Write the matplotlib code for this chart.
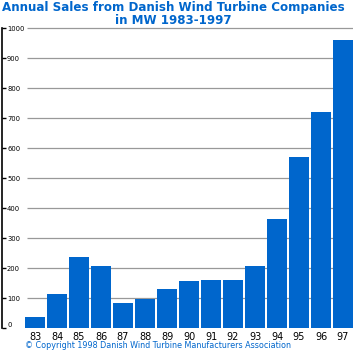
import matplotlib
matplotlib.use("Agg")
import matplotlib.pyplot as plt
import numpy as np

years = ["83", "84", "85", "86", "87", "88", "89", "90", "91", "92", "93", "94", "95", "96", "97"]
sales_mw = [38, 115, 238, 208, 85, 99, 132, 158, 161, 161, 208, 365, 571, 721, 961]
y_ticks = [0, 100, 200, 300, 400, 500, 600, 700, 800, 900, 1000]
title = "Annual Sales from Danish Wind Turbine Companies\nin MW 1983-1997"
copyright_text = "\u00a9 Copyright 1998 Danish Wind Turbine Manufacturers Association"

BLUE = "#0066CC"
W, H = 353, 352
PT = 0.72  # points per pixel at dpi 100
fig = plt.figure(figsize=(W / 100, H / 100), dpi=100)
ax = fig.add_axes([24 / W, (H - 328.3) / H, 329 / W, 300 / H])

x = np.arange(len(years))
ax.bar(x, sales_mw, width=20 / 22, color=BLUE, zorder=3)
ax.set_xlim(-0.5, 14.4545)
ax.set_ylim(0, 1000)

# gridlines (not at zero)
x0 = (26.5 - 35) / 22
ax.hlines(y_ticks[1:], x0, 14.4545, colors="#999999", linewidth=0.9, zorder=1, clip_on=False)

for s in ["top", "right", "bottom"]:
    ax.spines[s].set_visible(False)
ax.spines["left"].set_position(("outward", 22.5 * PT))
ax.spines["left"].set_linewidth(1.2)

ax.set_yticks(y_ticks)
ax.set_yticklabels([str(v) for v in y_ticks])
ax.tick_params(axis="y", direction="in", length=4 * PT, width=1.0, pad=-5.5 * PT, labelsize=4.9)
for lab in ax.get_yticklabels():
    lab.set_horizontalalignment("left")
ax.get_yticklabels()[0].set_verticalalignment("bottom")

ax.set_xticks(x)
ax.set_xticklabels(years)
ax.tick_params(axis="x", length=0, pad=2.5, labelsize=7)

fig.text(173 / W, 1 - 0.5 / H, title, ha="center", va="top", color=BLUE,
         fontsize=8.6, fontweight="bold", linespacing=1.0)
fig.text(25 / W, 1 - 346 / H, copyright_text, ha="left", va="center", color=BLUE,
         fontsize=5.8)

fig.savefig("out.png", dpi=100)
